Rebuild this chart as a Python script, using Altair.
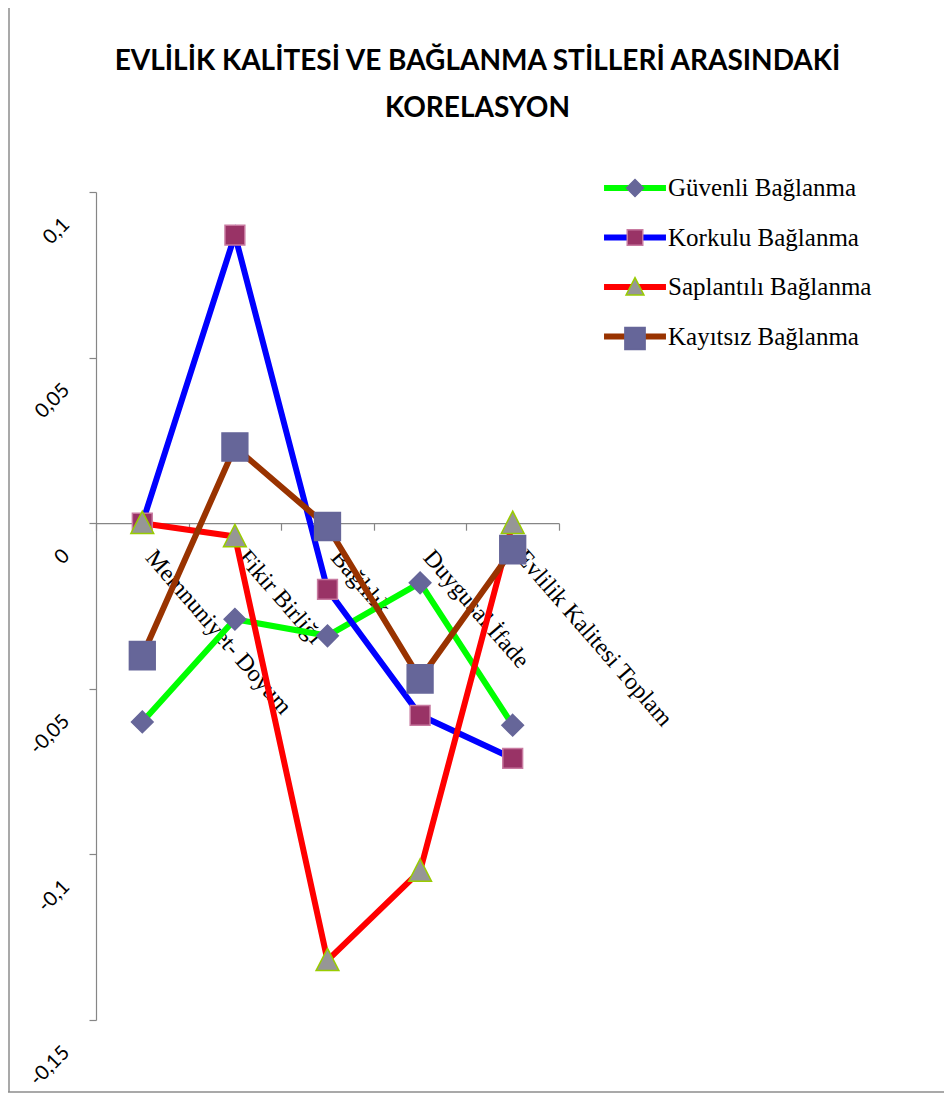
import altair as alt
import pandas as pd

# ---------------- data ----------------
categories = ["Memnuniyet- Doyum", "Fikir Birliği", "Bağlılık", "Duygusal İfade",
              "Evlilik Kalitesi Toplam"]
series = ["Güvenli Bağlanma", "Korkulu Bağlanma", "Saplantılı Bağlanma", "Kayıtsız Bağlanma"]
guvenli = [-0.060, -0.029, -0.034, -0.018, -0.061]
korkulu = [0.000, 0.087, -0.020, -0.058, -0.071]
saplantili = [0.000, -0.004, -0.132, -0.105, 0.000]
kayitsiz = [-0.040, 0.023, -0.001, -0.047, -0.008]
y_ticks = [-0.15, -0.1, -0.05, 0, 0.05, 0.1]
title_lines = ["EVLİLİK KALİTESİ VE BAĞLANMA STİLLERİ ARASINDAKİ", "KORELASYON"]

# ---------------- styles ----------------
line_colors = ["#00FF00", "#0000FF", "#FF0000", "#993300"]
marker_fills = ["#666699", "#993366", "#969696", "#666699"]
marker_strokes = ["#666699", "#C87AA0", "#99CC00", "#666699"]
marker_paths = [
    "M0,-0.72L0.72,0L0,0.72L-0.72,0Z",
    "M-0.66,-0.66L0.66,-0.66L0.66,0.66L-0.66,0.66Z",
    "M0,-0.8L0.76,0.68L-0.76,0.68Z",
    "M-0.86,-0.94L0.86,-0.94L0.86,0.94L-0.86,0.94Z",
]

rows = []
for s, vals in zip(series, [guvenli, korkulu, saplantili, kayitsiz]):
    for i, (c, v) in enumerate(zip(categories, vals)):
        rows.append({"Seri": s, "Kategori": c, "r": v, "idx": i})
df = pd.DataFrame(rows)

W, H = 463, 828
ymin, ymax = -0.15, 0.1
zero_offset = -H * (0 - ymin) / (ymax - ymin)

AX = "#868686"

x_enc = alt.X(
    "Kategori:N", sort=categories,
    scale=alt.Scale(type="band", paddingInner=0, paddingOuter=0),
    axis=alt.Axis(
        title=None, orient="bottom", offset=zero_offset, tickBand="extent",
        domainColor=AX, tickColor=AX, tickSize=7, domainWidth=1.2, tickWidth=1.2,
        labelAngle=49, labelAlign="left", labelBaseline="middle",
        labelPadding=23, labelOffset=7, labelFont="Liberation Serif",
        labelFontSize=24, labelColor="black", labelOverlap=False, labelLimit=500,
    ),
)
y_enc = alt.Y(
    "r:Q",
    scale=alt.Scale(domain=[ymin, ymax], nice=False, zero=False),
    axis=alt.Axis(
        title=None, values=y_ticks, grid=False,
        labelExpr="replace(replace(format(datum.value, '.2~f'), '.', ','), '\u2212', '-')",
        domainColor=AX, tickColor=AX, tickSize=7, domainWidth=1.2, tickWidth=1.2,
        labelAngle=-45, labelAlign="right", labelBaseline="middle",
        labelPadding=23, labelOffset=29, labelFont="Lato", labelFontSize=20,
        labelColor="black", labelOverlap=False,
    ),
)

legend_x = 526.5
legend_y = -16.5

lines = alt.Chart(df).mark_line(strokeWidth=6).encode(
    x=x_enc, y=y_enc,
    order=alt.Order("idx:Q"),
    color=alt.Color(
        "Seri:N", sort=series,
        scale=alt.Scale(range=line_colors),
        legend=alt.Legend(
            title=None, orient="none", legendX=legend_x, legendY=legend_y,
            symbolType="M-3.26,0L3.26,0", symbolSize=361, symbolStrokeWidth=6,
            labelFont="Liberation Serif", labelFontSize=25, labelColor="black",
            labelOffset=20.5, labelLimit=500, rowPadding=23.5, padding=0, zindex=0,
        ),
    ),
)

pt_legend = alt.Legend(
    title=None, orient="none", legendX=legend_x, legendY=legend_y,
    symbolSize=552, symbolStrokeWidth=1.5,
    labelFont="Liberation Serif", labelFontSize=25, labelColor="transparent",
    labelOffset=20.5, labelLimit=500, rowPadding=23.5, padding=0, zindex=1,
)

points = alt.Chart(df).mark_point(filled=True, size=900, strokeWidth=1.5, opacity=1).encode(
    x=x_enc, y=y_enc,
    shape=alt.Shape("Seri:N", scale=alt.Scale(domain=series, range=marker_paths), legend=pt_legend),
    fill=alt.Fill("Seri:N", scale=alt.Scale(domain=series, range=marker_fills), legend=pt_legend),
    stroke=alt.Stroke("Seri:N", scale=alt.Scale(domain=series, range=marker_strokes), legend=pt_legend),
)

# chart-area frame (left and bottom edges)
frame_left = alt.Chart(pd.DataFrame({"a": [0]})).mark_rule(color="#8C8C8C", strokeWidth=1.5).encode(
    x=alt.value(-87), y=alt.value(-184), y2=alt.value(900))
frame_bottom = alt.Chart(pd.DataFrame({"a": [0]})).mark_rule(color="#8C8C8C", strokeWidth=1.5).encode(
    x=alt.value(-88), x2=alt.value(848), y=alt.value(900))

chart = alt.layer(frame_left, frame_bottom, lines, points).properties(
    width=W, height=H,
    padding={"left": 88, "top": 184, "right": 385, "bottom": 74},
    autosize=alt.AutoSizeParams(type="none"),
    background="white",
    title=alt.TitleParams(
        text=title_lines, font="Lato", fontSize=28, fontWeight="bold", color="black",
        anchor="middle", dx=150, offset=-144, lineHeight=47, baseline="bottom",
    ),
).configure_view(stroke=None, strokeWidth=0)

chart.save("out.html", embed_options={"renderer": "svg", "actions": False})
